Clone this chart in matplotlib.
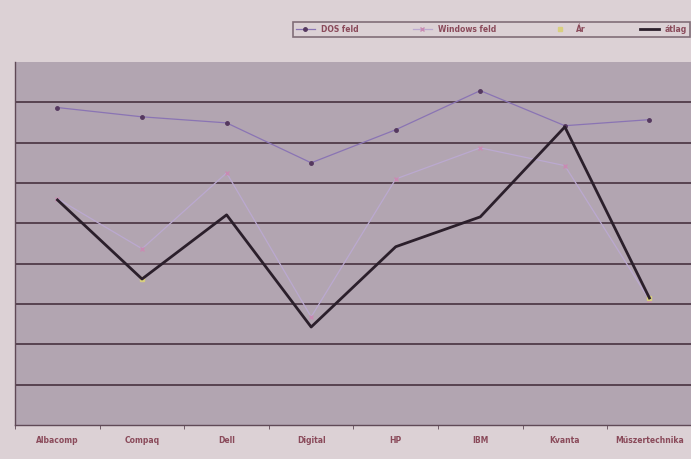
import numpy as np
import matplotlib.pyplot as plt

gepek = ['Albacomp', 'Compaq', 'Dell', 'Digital', 'HP', 'IBM', 'Kvanta', 'Műszertechnika']
dos = [7.87, 7.64, 7.49, 6.50, 7.32, 8.29, 7.42, 7.57]
windows = [5.61, 4.37, 6.25, 2.68, 6.10, 6.87, 6.43, 3.10]
ar = [np.nan, 3.62, np.nan, np.nan, np.nan, np.nan, np.nan, 3.15]
atlag = [5.58, 3.62, 5.21, 2.43, 4.42, 5.16, 7.39, 3.15]

plt.rcParams['font.family'] = ['DejaVu Sans']

fig = plt.figure(figsize=(6.91, 4.59), dpi=100)
fig.patch.set_facecolor('#dcd1d5')
ax = fig.add_axes([0.022, 0.074, 0.979, 0.791])
ax.set_facecolor('#b2a5b1')

x = np.arange(len(gepek))
ax.plot(x, dos, color='#8a74b4', lw=0.9, marker='o', ms=2.5, mfc='#55385f', mec='#55385f', label='DOS feld', zorder=3)
ax.plot(x, windows, color='#bba9d0', lw=0.9, marker='x', ms=3, mec='#c98bb3', label='Windows feld', zorder=3)
ax.plot(x, ar, color='#d8d08a', lw=0, marker='s', ms=2.5, mfc='#d8cf7e', mec='#d8cf7e', label='Ár', zorder=3)
ax.plot(x, atlag, color='#2b1f2b', lw=2, label='átlag', zorder=4)

ax.set_xlim(-0.5, 7.5)
ax.set_ylim(0, 9)
ax.set_yticks(range(1, 9))
ax.yaxis.grid(True, color='#574350', lw=1.4)
ax.tick_params(axis='y', length=0, labelleft=False)
ax.set_xticks(x)
ax.set_xticklabels(gepek, fontsize=5.5, color='#8a4a5a', fontweight='bold')
ax.set_xticks(np.arange(-0.5, 8, 1), minor=True)
ax.tick_params(axis='x', which='major', length=0, pad=8)
ax.tick_params(axis='x', which='minor', length=3, color='#5f4956')
for s in ['top', 'right']:
    ax.spines[s].set_visible(False)
for s in ['left', 'bottom']:
    ax.spines[s].set_color('#5f4956')
    ax.spines[s].set_linewidth(1.0)

leg = fig.legend(loc='lower left', bbox_to_anchor=(289/691, 1-41/459, 405/691, 36/459),
                 mode='expand', ncol=4, prop={'size': 5.5, 'weight': 'bold'}, labelcolor='#8a4a5a',
                 frameon=True, fancybox=False, handlelength=2.5)
leg.get_frame().set_facecolor('#dcd1d5')
leg.get_frame().set_edgecolor('#6a5560')
leg.get_frame().set_linewidth(1.2)

fig.savefig('out.png', dpi=100, facecolor=fig.get_facecolor())
